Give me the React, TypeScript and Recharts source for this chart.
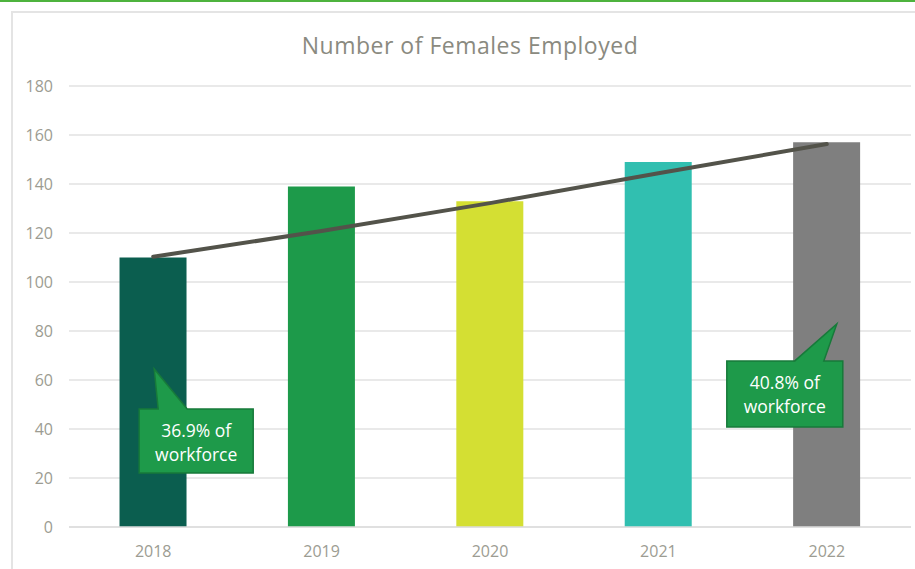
import React from "react";
import { ComposedChart, Bar, Line, XAxis, YAxis, CartesianGrid, Cell, ReferenceDot } from "recharts";

const years = ["2018", "2019", "2020", "2021", "2022"];
const females = [110, 139, 133, 149, 157];
const trend = [110.3, 120.8, 132.2, 144.4, 156.3];
const barColors = ["#0b5e4f", "#1d9a4a", "#d4df33", "#31bfb0", "#7f7f7f"];
const yTicks = [0, 20, 40, 60, 80, 100, 120, 140, 160, 180];

const calloutYears = ["2018", "2022"];
const calloutValues = [64.5, 82.9];
const calloutLine1 = ["36.9% of", "40.8% of"];
const calloutLine2 = ["workforce", "workforce"];

const data = years.map((y, i) => ({ year: y, value: females[i], trend: trend[i] }));

const FONT = "'Open Sans', sans-serif";
const CFS = 17.5;

function CalloutLeft(props: any) {
  const { cx, cy } = props;
  const tx = cx + 1;
  const ty = cy;
  const l = tx - 15, r = tx + 99, t = ty + 40, b = ty + 104;
  const d = `M${l},${t} L${tx + 4},${t} L${tx},${ty} L${tx + 33},${t} L${r},${t} L${r},${b} L${l},${b} Z`;
  return (
    <g>
      <path d={d} fill="#1e9a4a" stroke="#177a3a" strokeWidth={1.5} />
      <text x={tx + 42} y={ty + 61} textAnchor="middle" dominantBaseline="central" fill="#ffffff" fontFamily={FONT} fontSize={CFS}>{calloutLine1[0]}</text>
      <text x={tx + 42} y={ty + 85} textAnchor="middle" dominantBaseline="central" fill="#ffffff" fontFamily={FONT} fontSize={CFS}>{calloutLine2[0]}</text>
    </g>
  );
}

function CalloutRight(props: any) {
  const { cx, cy } = props;
  const tx = cx + 10;
  const ty = cy;
  const l = tx - 110, r = tx + 6, t = ty + 37, b = ty + 103;
  const d = `M${l},${t} L${tx - 42},${t} L${tx},${ty} L${tx - 13},${t} L${r},${t} L${r},${b} L${l},${b} Z`;
  return (
    <g>
      <path d={d} fill="#1e9a4a" stroke="#177a3a" strokeWidth={1.5} />
      <text x={tx - 52} y={ty + 58} textAnchor="middle" dominantBaseline="central" fill="#ffffff" fontFamily={FONT} fontSize={CFS}>{calloutLine1[1]}</text>
      <text x={tx - 52} y={ty + 82} textAnchor="middle" dominantBaseline="central" fill="#ffffff" fontFamily={FONT} fontSize={CFS}>{calloutLine2[1]}</text>
    </g>
  );
}

export default function App() {
  return (
    <div style={{ position: "absolute", left: 0, top: 0, width: 915, height: 569, background: "#ffffff", overflow: "hidden" }}>
      <div style={{ position: "absolute", left: 0, top: 0, width: 915, height: 2, background: "#4db33d" }} />
      <div style={{ position: "absolute", left: 11, top: 11, width: 910, height: 570, borderLeft: "2px solid #e4e4e4", borderTop: "2px solid #e4e4e4" }} />
      <div style={{ position: "absolute", left: 0, top: 29, width: 940, textAlign: "center", fontFamily: FONT, fontSize: 23, letterSpacing: 0.5, color: "#8a8a80" }}>
        Number of Females Employed
      </div>
      <div style={{ position: "absolute", left: 0, top: 0 }}>
        <ComposedChart width={915} height={569} data={data} margin={{ top: 86, right: 4, bottom: 0, left: 0 }} barCategoryGap="30%">
          <CartesianGrid horizontal vertical={false} stroke="#e2e2e2" strokeWidth={1.5} />
          <XAxis dataKey="year" height={42} tickLine={false} axisLine={{ stroke: "#dcdcdc", strokeWidth: 1.5 }} tickSize={0} tickMargin={19} tick={{ fill: "#9c9c92", fontSize: 16, fontFamily: FONT }} />
          <YAxis width={69} domain={[0, 180]} ticks={yTicks} interval={0} tickLine={false} axisLine={false} tickSize={0} tickMargin={16} tick={{ fill: "#9c9c92", fontSize: 16, fontFamily: FONT }} />
          <Bar dataKey="value" isAnimationActive={false}>
            {data.map((d, i) => (
              <Cell key={d.year} fill={barColors[i]} />
            ))}
          </Bar>
          <Line dataKey="trend" type="linear" stroke="#53534a" strokeWidth={4} strokeLinecap="round" dot={false} activeDot={false} isAnimationActive={false} />
          <ReferenceDot x={calloutYears[0]} y={calloutValues[0]} r={1} shape={CalloutLeft} />
          <ReferenceDot x={calloutYears[1]} y={calloutValues[1]} r={1} shape={CalloutRight} />
        </ComposedChart>
      </div>
    </div>
  );
}
